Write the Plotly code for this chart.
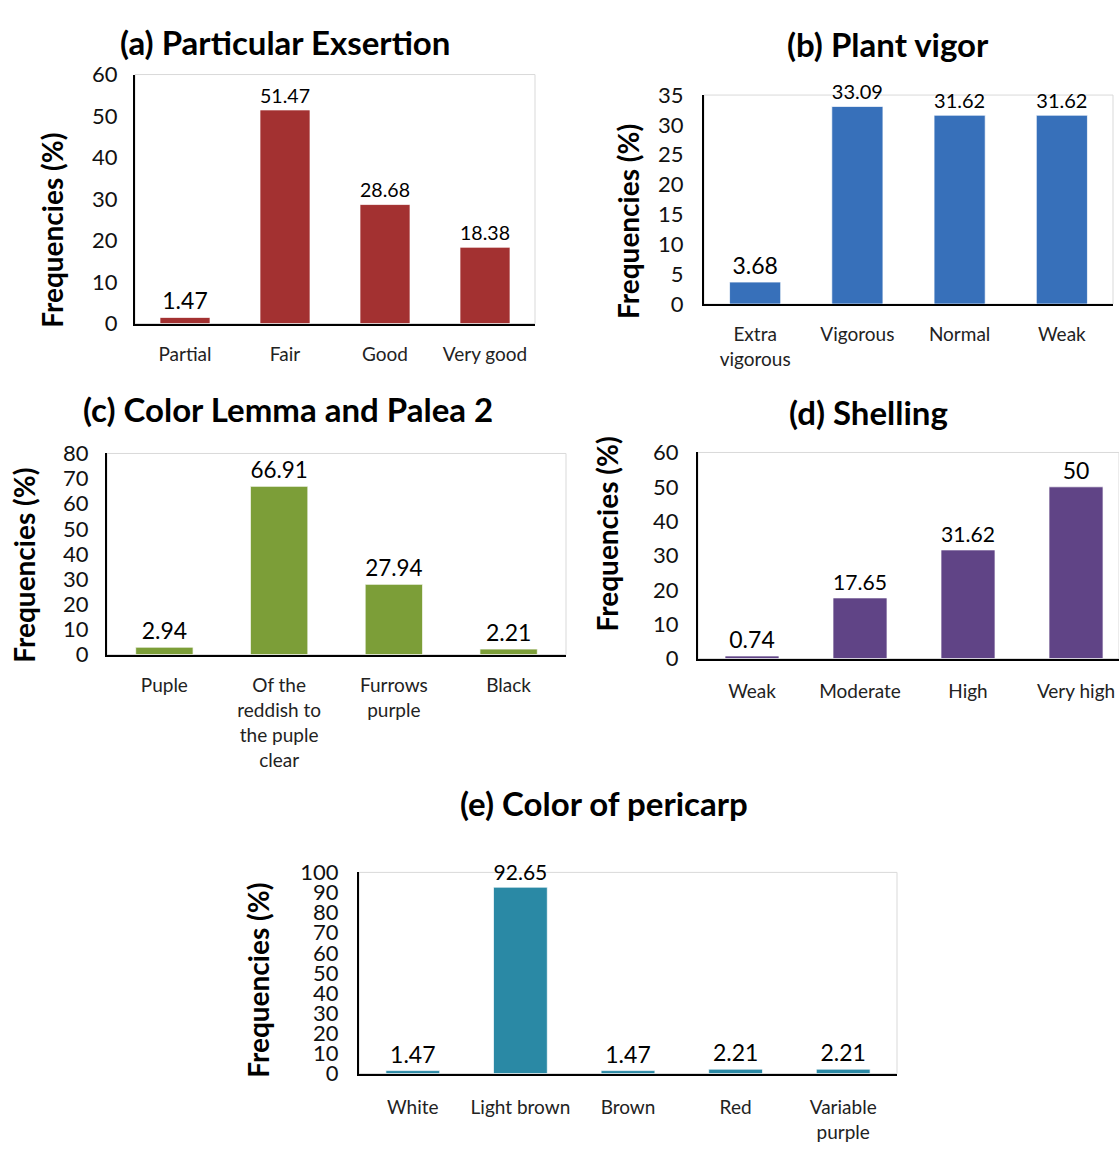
import plotly.graph_objects as go

W, H = 1119, 1152

# ---------------- data ----------------
cat_a = ["Partial", "Fair", "Good", "Very good"]
val_a = [1.47, 51.47, 28.68, 18.38]
lab_a = ["1.47", "51.47", "28.68", "18.38"]

cat_b = ["Extra<br>vigorous", "Vigorous", "Normal", "Weak"]
val_b = [3.68, 33.09, 31.62, 31.62]
lab_b = ["3.68", "33.09", "31.62", "31.62"]

cat_c = ["Puple", "Of the<br>reddish to<br>the puple<br>clear", "Furrows<br>purple", "Black"]
val_c = [2.94, 66.91, 27.94, 2.21]
lab_c = ["2.94", "66.91", "27.94", "2.21"]

cat_d = ["Weak", "Moderate", "High", "Very high"]
val_d = [0.74, 17.65, 31.62, 50]
lab_d = ["0.74", "17.65", "31.62", "50"]

cat_e = ["White", "Light brown", "Brown", "Red", "Variable<br>purple"]
val_e = [1.47, 92.65, 1.47, 2.21, 2.21]
lab_e = ["1.47", "92.65", "1.47", "2.21", "2.21"]

titles = ["(a) Particular Exsertion", "(b) Plant vigor", "(c) Color Lemma and Palea 2",
          "(d) Shelling", "(e) Color of pericarp"]
ytitle = "Frequencies (%)"

FONT = "Lato"

def px_x(p):
    return p / W

def px_y(p):
    return 1 - p / H

# panel geometry in pixels
panels = [
    dict(cats=cat_a, vals=val_a, labs=lab_a, l=135, r=535, t=62, b=317, ymax=60, dtick=10,
         color="#A33131", tpos=(285, 29), ypos=(52, 222), xr=None, lstand=11, xstand=13),
    dict(cats=cat_b, vals=val_b, labs=lab_b, l=704, r=1113, t=83, b=297, ymax=35, dtick=5,
         color="#3770BA", tpos=(888, 31), ypos=(628, 213), xr=None, lstand=14, xstand=12),
    dict(cats=cat_c, vals=val_c, labs=lab_c, l=107, r=566, t=450, b=656, ymax=80, dtick=10,
         color="#7C9E38", tpos=(288, 404), ypos=(24, 565), xr=None, lstand=12, xstand=13),
    dict(cats=cat_d, vals=val_d, labs=lab_d, l=698, r=1119, t=449, b=660, ymax=60, dtick=10,
         color="#604486", tpos=(868, 408), ypos=(607, 533), xr=[-0.5, 3.398], lstand=13, xstand=15),
    dict(cats=cat_e, vals=val_e, labs=lab_e, l=359, r=897, t=879, b=1085, ymax=100, dtick=10,
         color="#2A89A5", tpos=(604, 808), ypos=(258, 990), xr=None, lstand=14, xstand=16),
]

fig = go.Figure()
annotations = []
shapes = []

for i, p in enumerate(panels, start=1):
    xa = "x" if i == 1 else f"x{i}"
    ya = "y" if i == 1 else f"y{i}"
    fig.add_trace(go.Bar(
        x=p["cats"], y=p["vals"], text=p["labs"], textposition="outside",
        textfont=dict(family=FONT, size=23, color="#000000"),
        marker=dict(color=p["color"], line=dict(color="rgba(255,255,255,0.7)", width=1)),
        width=0.5, cliponaxis=False, xaxis=xa, yaxis=ya, showlegend=False,
    ))
    xkey = "xaxis" if i == 1 else f"xaxis{i}"
    ykey = "yaxis" if i == 1 else f"yaxis{i}"
    xaxis = dict(
        domain=[px_x(p["l"]), px_x(p["r"])], anchor=ya, type="category",
        showline=True, linecolor="#000000", linewidth=2, ticks="", showgrid=False,
        tickfont=dict(family=FONT, size=19, color="#222222"),
        ticklabelstandoff=p["xstand"], fixedrange=True,
    )
    if p["xr"] is not None:
        xaxis["range"] = p["xr"]
    fig.update_layout({
        xkey: xaxis,
        ykey: dict(
            domain=[px_y(p["b"]), px_y(p["t"])], anchor=xa, range=[0, p["ymax"]],
            dtick=p["dtick"], tick0=0, showline=True, linecolor="#000000", linewidth=2,
            ticks="", showgrid=False, zeroline=False,
            tickfont=dict(family=FONT, size=22, color="#111111"),
            ticklabelstandoff=p["lstand"], fixedrange=True,
        ),
    })
    # light plot-area border
    shapes.append(dict(type="rect", xref=f"{xa} domain", yref=f"{ya} domain",
                       x0=0, x1=1, y0=0, y1=1, line=dict(color="#D9D9D9", width=1),
                       layer="below"))
    annotations.append(dict(text=f"<b>{titles[i-1]}</b>", x=px_x(p["tpos"][0]), y=px_y(p["tpos"][1]),
                            xref="paper", yref="paper", showarrow=False,
                            xanchor="center", yanchor="middle",
                            font=dict(family=FONT, size=33, color="#000000")))
    annotations.append(dict(text=f"<b>{ytitle}</b>", x=px_x(p["ypos"][0]), y=px_y(p["ypos"][1]),
                            xref="paper", yref="paper", showarrow=False, textangle=-90,
                            xanchor="center", yanchor="middle",
                            font=dict(family=FONT, size=28, color="#000000")))

fig.update_layout(
    width=W, height=H, margin=dict(l=0, r=0, t=0, b=0),
    paper_bgcolor="#FFFFFF", plot_bgcolor="rgba(0,0,0,0)",
    annotations=annotations, shapes=shapes, showlegend=False,
    font=dict(family=FONT), hovermode=False,
)

fig.write_html("out.html",
               config={"displayModeBar": False, "staticPlot": True},
               post_script="document.body.style.margin='0';document.body.style.overflow='hidden';")
